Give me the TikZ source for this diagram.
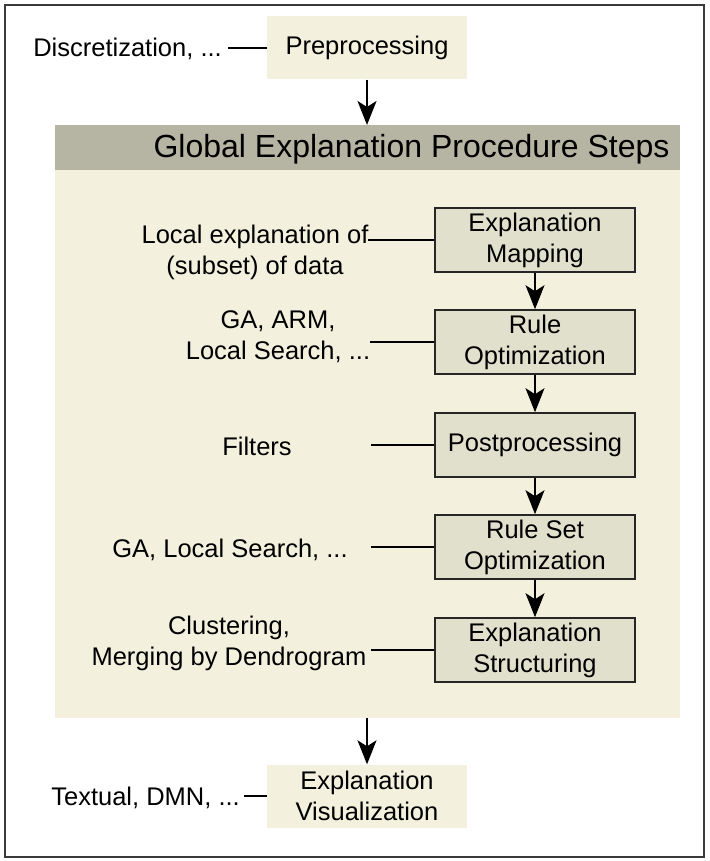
\documentclass[tikz,border=0pt]{standalone}
\usepackage{fontspec}
\setmainfont{Liberation Sans}
\usetikzlibrary{arrows.meta}
\definecolor{cream}{HTML}{F3F1DD}
\definecolor{headgray}{HTML}{B6B4A2}
\definecolor{boxfill}{HTML}{E1E0CD}
\definecolor{framegray}{HTML}{3A3A3A}

\begin{document}
\begin{tikzpicture}[x=1pt,y=-1pt,
	font=\fontsize{25.5}{31}\selectfont,
	stepbox/.style={draw=black!85,line width=1.6pt,fill=boxfill,minimum width=200pt,minimum height=64pt,align=center},
	outbox/.style={fill=cream,minimum width=200pt,minimum height=63pt,align=center},
	note/.style={inner sep=0pt,align=center},
	link/.style={line width=1.2pt},
	flow/.style={line width=1.6pt,-{Stealth[length=24pt,width=19pt,inset=6pt]}}]
	\useasboundingbox (0,0) rectangle (709,861);
	\draw[framegray,line width=1.5pt] (5,5) rectangle (704,857);

	% procedure frame
	\fill[cream] (55,170) rectangle (680,718);
	\fill[headgray] (55,125) rectangle (680,170);
	\node[anchor=east,font=\fontsize{32}{36}\selectfont] (head) at (673,149) {Global Explanation Procedure Steps};
	\coordinate (top) at (367,125);
	\coordinate (bottom) at (367,718);

	\node[outbox] (pre) at (367,48) {Preprocessing};
	\node[outbox] (vis) at (367,796) {Explanation\\Visualization};

	\node[stepbox] (map) at (535,240) {Explanation\\Mapping};
	\node[stepbox] (ropt) at (535,342) {Rule\\Optimization};
	\node[stepbox] (post) at (535,445) {Postprocessing};
	\node[stepbox] (rsopt) at (535,547) {Rule Set\\Optimization};
	\node[stepbox] (struct) at (535,650) {Explanation\\Structuring};

	\node[note,anchor=east] (disc) at (222,49) {Discretization, ...};
	\node[note] (local) at (255,252) {Local explanation of\\(subset) of data};
	\node[note] (ga1) at (278,337) {GA, ARM,\\Local Search, ...};
	\node[note] (filt) at (257,446) {Filters};
	\node[note] (ga2) at (230,550) {GA, Local Search, ...};
	\node[note] (clus) at (229,643) {Clustering,\\Merging by Dendrogram};
	\node[note,anchor=east] (text) at (240,798) {Textual, DMN, ...};

	\draw[link] (pre.west) -- ++(-39,0);
	\draw[link] (map.west) -- ++(-66,0);
	\draw[link] (ropt.west) -- ++(-64,0);
	\draw[link] (post.west) -- ++(-63,0);
	\draw[link] (rsopt.west) -- ++(-63,0);
	\draw[link] (struct.west) -- ++(-63,0);
	\draw[link] (vis.west) -- ++(-23,0);

	\draw[flow] (pre) -- (top);
	\draw[flow] (map) -- (ropt);
	\draw[flow] (ropt) -- (post);
	\draw[flow] (post) -- (rsopt);
	\draw[flow] (rsopt) -- (struct);
	\draw[flow] (bottom) -- (vis);
\end{tikzpicture}
\end{document}
